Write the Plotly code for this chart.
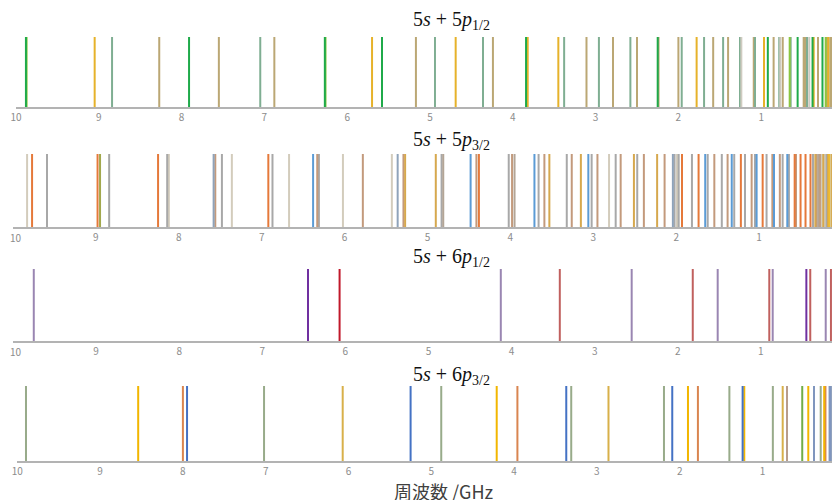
import plotly.graph_objects as go

# ---------------- data (GHz) ----------------
# Panel 1: 5s + 5p1/2
p1_green = [9.88, 7.91, 6.27, 5.58, 3.84, 2.25, 0.92, 0.56, 0.38, 0.26, 0.09, 0.07, 0.058]
p1_gold = [9.05, 5.70, 4.69, 3.82, 3.45, 1.78, 0.966, 0.366, 0.19]
p1_tan = [8.27, 7.55, 6.88, 5.17, 4.24, 3.11, 2.79, 2.50, 2.24, 2.00, 1.58, 1.40, 1.09,
          0.85, 0.74, 0.487, 0.471, 0.314, 0.205, 0.166, 0.145]
p1_greengray = [8.84, 7.05, 4.94, 4.36, 3.38, 2.96, 2.58, 1.96, 1.69, 1.46, 1.256, 1.075,
                0.782, 0.644, 0.447, 0.125, 0.105]
p1_yellowgreen = [9.872, 6.262, 0.656, 0.221, 0.085]
p1_lightgray = [1.24, 0.77, 0.42, 0.115]

# Panel 2: 5s + 5p3/2
p2_orange = [9.77, 8.98, 8.25, 6.92, 4.38, 1.93, 1.73, 1.22, 0.957, 0.571, 0.50, 0.44, 0.38]
p2_gray = [9.59, 8.84, 8.14, 7.48, 6.87, 6.31, 4.83, 4.02, 3.66, 3.32, 3.02, 2.73, 2.47,
           2.02, 1.97, 1.81, 1.62, 1.45, 1.30, 1.17, 1.05, 0.91, 0.716, 0.64, 0.35, 0.185]
p2_blue = [6.38, 4.48, 3.71, 3.06, 1.65, 1.33, 1.03, 0.82, 0.66]
p2_brown = [7.56, 6.33, 5.78, 5.29, 4.41, 3.98, 3.59, 3.26, 2.95, 2.67, 2.39, 2.14, 1.54,
            1.38, 1.09, 0.84, 0.75, 0.555, 0.305, 0.266]
p2_lighttan = [9.83, 8.12, 7.36, 6.67, 6.02, 5.43, 2.81, 1.99, 0.245, 0.205, 0.136]
p2_goldtan = [5.27, 4.90, 3.53, 3.15, 2.51, 2.23, 0.322, 0.226, 0.169, 0.12, 0.088]
p2_olive = [8.95]
p2_grayblue = [7.58, 5.36, 2.04, 0.105]
p2_browngray = [4.81, 3.95, 0.286]
p2_gold = [0.153, 0.072, 0.057, 0.04, 0.03]

# Panel 3: 5s + 6p1/2
p3_purplegray = [9.75, 4.13, 2.555, 1.52, 0.858, 0.22, 0.10]
p3_purple = [6.45, 0.453]
p3_red = [6.07]
p3_reddish = [3.42, 1.82, 0.899, 0.406, 0.157, 0.056]

# Panel 4: 5s + 6p3/2
p4_greengray = [9.895, 7.02, 4.88, 3.31, 2.19, 1.40, 0.875, 0.297]
p4_gold = [8.54, 4.21, 1.90, 1.22, 0.447, 0.255]
p4_orange = [8.00, 3.96, 1.78, 0.24]
p4_blue = [7.95, 5.25, 3.37, 2.09, 1.24]
p4_goldtan = [6.07, 2.86, 0.756]
p4_browntan = [0.704, 0.14]
p4_green = [0.52, 0.085]
p4_bluegray = [0.378, 0.19, 0.175]
p4_tangray = [0.155, 0.125]

titles = ["5<i>s</i> + 5<i>p</i><sub>1/2</sub>", "5<i>s</i> + 5<i>p</i><sub>3/2</sub>",
          "5<i>s</i> + 6<i>p</i><sub>1/2</sub>", "5<i>s</i> + 6<i>p</i><sub>3/2</sub>"]
tick_vals = [10, 9, 8, 7, 6, 5, 4, 3, 2, 1, 0]
tick_text = ["10", "9", "8", "7", "6", "5", "4", "3", "2", "1", "0"]
x_title = "周波数 /GHz"

panels = [
    [(p1_tan, "#BBA774"), (p1_greengray, "#7FAE92"), (p1_lightgray, "#CFCBC0"),
     (p1_gold, "#E6B22A"), (p1_yellowgreen, "#8CC63F"), (p1_green, "#1FAA4A")],
    [(p2_lighttan, "#D3CCBC"), (p2_gray, "#A8A8A8"), (p2_brown, "#C39A7C"),
     (p2_browngray, "#B3A596"), (p2_grayblue, "#8FA3BA"), (p2_goldtan, "#D6A84E"),
     (p2_olive, "#A2A84C"), (p2_blue, "#5B9BD5"), (p2_orange, "#E5793A"), (p2_gold, "#F0BC2A")],
    [(p3_purplegray, "#9A86B2"), (p3_reddish, "#C0605E"), (p3_purple, "#7030A0"),
     (p3_red, "#C0182A")],
    [(p4_greengray, "#98AB8A"), (p4_tangray, "#BDB08A"), (p4_browntan, "#B89C8A"),
     (p4_goldtan, "#D8B04A"), (p4_orange, "#D98550"), (p4_gold, "#F2B600"),
     (p4_bluegray, "#8096BE"), (p4_blue, "#4472C4"), (p4_green, "#70AD47")],
]

OFF = 8                      # page body margin
W, H = 840 - OFF, 500 - OFF  # figure size so the page fits the window
# page-pixel geometry per panel: (x px of 10 GHz, px per GHz, top px, baseline px, title y px)
geom = [(16, 82.8, 37, 107, 21), (13, 82.9, 154, 227, 141),
        (13, 83.1, 269, 341, 257), (17.3, 82.8, 386, 461, 375)]

def px(p):
    return (p - OFF) / W

def py(p):
    return 1 - (p - OFF) / H

tickfont = dict(family="Noto Sans CJK JP", size=10, color="#8C8C8C")

fig = go.Figure()
for i, (series, (x10, ppg, top, base, ty)) in enumerate(zip(panels, geom)):
    n = i + 1
    xa = "x" if n == 1 else f"x{n}"
    ya = "y" if n == 1 else f"y{n}"
    for vals, col in series:
        xs, ys = [], []
        for v in vals:
            xs += [v, v, None]
            ys += [0, 1, None]
        fig.add_trace(go.Scatter(x=xs, y=ys, mode="lines", xaxis=xa, yaxis=ya,
                                 line=dict(color=col, width=2), showlegend=False,
                                 hoverinfo="skip"))
    xend = 10 - (840 - x10) / ppg
    xkey = "xaxis" if n == 1 else f"xaxis{n}"
    ykey = "yaxis" if n == 1 else f"yaxis{n}"
    fig.layout[xkey] = dict(domain=[px(x10), 1], range=[10, xend], anchor=ya,
                            tickvals=tick_vals, ticktext=tick_text, showgrid=False,
                            zeroline=False, showline=True, linecolor="#B3B3B3",
                            linewidth=2, ticks="", ticklen=0, automargin=False,
                            tickfont=tickfont)
    fig.layout[ykey] = dict(domain=[py(base), py(top)], range=[0, 1], anchor=xa,
                            visible=False, showgrid=False, zeroline=False, automargin=False)
    fig.add_annotation(text=titles[i], xref="paper", yref="paper", x=px(451), y=py(ty),
                       xanchor="center", yanchor="middle", showarrow=False,
                       font=dict(family="Liberation Serif", size=20, color="#111111"))
    if x10 < 15:
        # the "10" tick label sits at the very left edge in these panels
        fig.add_annotation(text=tick_text[0], xref="paper", yref="paper", x=0, y=py(base + 10),
                           xanchor="left", yanchor="middle", showarrow=False, font=tickfont)

# partially visible "0" tick at the right edge of panel 2
fig.add_annotation(text=tick_text[-1], xref="paper", yref="paper", x=px(842), y=py(237),
                   xanchor="center", yanchor="middle", showarrow=False, font=tickfont)
fig.add_annotation(text=x_title, xref="paper", yref="paper", x=px(444), y=py(491),
                   xanchor="center", yanchor="middle", showarrow=False,
                   font=dict(family="Noto Sans CJK JP", size=18, color="#404040"))

fig.update_layout(width=W, height=H, margin=dict(l=0, r=0, t=0, b=0),
                  paper_bgcolor="white", plot_bgcolor="white")
fig.write_html("out.html")
